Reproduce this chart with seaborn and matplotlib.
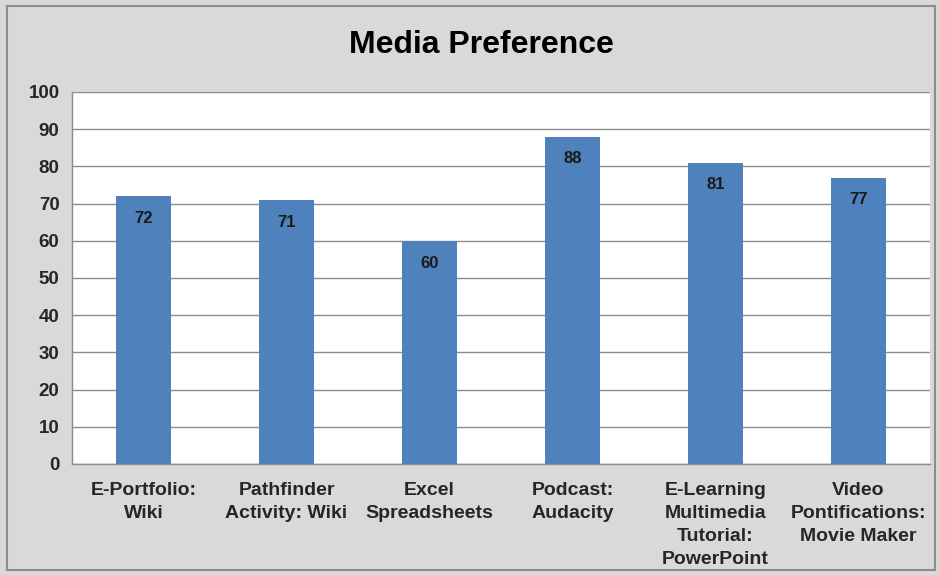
import matplotlib
matplotlib.use("Agg")
import matplotlib.pyplot as plt
import seaborn as sns
import pandas as pd
from matplotlib.ticker import FixedLocator
from matplotlib.patches import Rectangle

categories = [
    "E-Portfolio:\nWiki",
    "Pathfinder\nActivity: Wiki",
    "Excel\nSpreadsheets",
    "Podcast:\nAudacity",
    "E-Learning\nMultimedia\nTutorial:\nPowerPoint",
    "Video\nPontifications:\nMovie Maker",
]
values = [72, 71, 60, 88, 81, 77]
y_ticks = list(range(0, 101, 10))

df = pd.DataFrame({"Media": categories, "Preference": values})

sns.set_theme(style="white")
plt.rcParams["font.family"] = ["Liberation Sans", "DejaVu Sans"]

bg = "#d9d9d9"
bar_color = "#4f81bd"

fig = plt.figure(figsize=(9.39, 5.75), dpi=100, facecolor=bg)
ax = fig.add_axes([72 / 939, 1 - 464 / 575, (930 - 72) / 939, (464 - 92) / 575])

sns.barplot(data=df, x="Media", y="Preference", color=bar_color,
            width=0.39, saturation=1, linewidth=0, ax=ax, zorder=3)

# value labels inside the top of each bar
for i, v in enumerate(values):
    ax.annotate(str(v), (i, v), xytext=(0, -16), textcoords="offset points",
                ha="center", va="center", fontsize=12, fontweight="bold",
                color="#1a1a1a", zorder=4)

ax.set_facecolor("white")
ax.set_ylim(0, 100)
ax.set_xlim(-0.5, len(categories) - 0.5)
ax.set_yticks(y_ticks)
ax.yaxis.grid(True, color="#8c8c8c", linewidth=1, zorder=0)
ax.set_xlabel("")
ax.set_ylabel("")

for side in ["top", "right"]:
    ax.spines[side].set_visible(False)
for side in ["left", "bottom"]:
    ax.spines[side].set_color("#8c8c8c")
    ax.spines[side].set_linewidth(1)

ax.tick_params(axis="y", which="major", length=6, color="#8c8c8c", width=1,
               labelsize=13.5, pad=3)
ax.tick_params(axis="x", which="major", length=0, labelsize=14, pad=13)
ax.xaxis.set_minor_locator(FixedLocator([i - 0.5 for i in range(len(categories) + 1)]))
ax.tick_params(axis="x", which="minor", length=6, color="#8c8c8c", width=1)

for lbl in ax.get_yticklabels():
    lbl.set_fontweight("bold")
for lbl in ax.get_xticklabels():
    lbl.set_fontweight("bold")
    lbl.set_va("top")
    lbl.set_linespacing(1.45)

fig.text(481 / 939, 1 - 45 / 575, "Media Preference", ha="center", va="center",
         fontsize=23, fontweight="bold", color="black")

# outer chart border
fig.patches.append(Rectangle((7 / 939, 5 / 575), 928 / 939, 564 / 575,
                             transform=fig.transFigure, fill=False,
                             edgecolor="#8c8c8c", linewidth=1.5))

fig.savefig("out.png", dpi=100, facecolor=bg)
